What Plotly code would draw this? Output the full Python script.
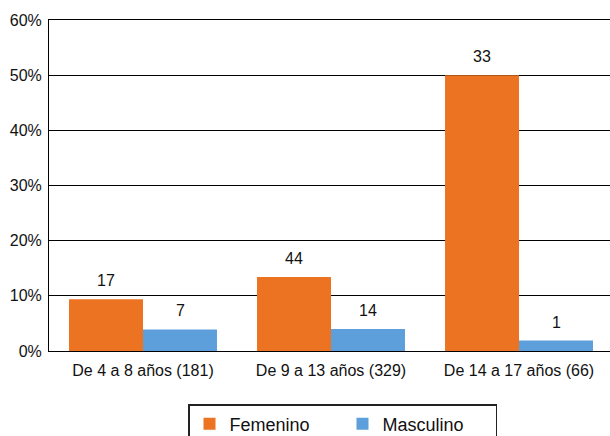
import plotly.graph_objects as go

categories = ["De 4 a 8 años (181)", "De 9 a 13 años (329)", "De 14 a 17 años (66)"]
femenino_pct = [9.4, 13.4, 50.0]
masculino_pct = [3.9, 4.0, 1.9]
femenino_n = [17, 44, 33]
masculino_n = [7, 14, 1]
y_ticks = [0, 10, 20, 30, 40, 50, 60]

ORANGE = "#EC7321"
BLUE = "#5D9FDB"
FONT = "Liberation Sans, Arial, Helvetica, sans-serif"

fig = go.Figure()
fig.add_trace(go.Bar(name="Femenino", x=categories, y=femenino_pct,
                     marker=dict(color=ORANGE, line=dict(width=0))))
fig.add_trace(go.Bar(name="Masculino", x=categories, y=masculino_pct,
                     marker=dict(color=BLUE, line=dict(width=0))))

annotations = []
for cat, v, n in zip(categories, femenino_pct, femenino_n):
    annotations.append(dict(x=cat, y=v, text=str(n), showarrow=False, xshift=-37,
                            yanchor="bottom", yshift=8, font=dict(size=16, color="#111")))
for cat, v, n in zip(categories, masculino_pct, masculino_n):
    annotations.append(dict(x=cat, y=v, text=str(n), showarrow=False, xshift=37,
                            yanchor="bottom", yshift=8, font=dict(size=16, color="#111")))

fig.update_layout(
    width=610, height=436,
    margin=dict(l=49, r=0, t=20, b=85, autoexpand=False),
    paper_bgcolor="white", plot_bgcolor="white",
    font=dict(family=FONT, size=16, color="#111"),
    barmode="group", bargap=0.213, bargroupgap=0,
    annotations=annotations,
    showlegend=True,
    legend=dict(orientation="h", x=(188 - 49) / 561, xanchor="left",
                y=-(404 - 351) / 331, yanchor="top",
                bordercolor="#222", borderwidth=1.5, font=dict(size=18, color="#111"),
                entrywidth=108, entrywidthmode="pixels", itemsizing="constant",
                traceorder="normal"),
    xaxis=dict(range=[-0.5, 2.484], showgrid=False, showline=True, mirror=True,
               linecolor="black", linewidth=1, ticks="", tickfont=dict(size=16),
               ticklabelstandoff=5, fixedrange=True),
    yaxis=dict(range=[0, 60], tickvals=y_ticks, ticktext=[f"{t}%" for t in y_ticks],
               showgrid=True, gridcolor="black", gridwidth=1, showline=True,
               linecolor="black", linewidth=1, ticks="", zeroline=False,
               tickfont=dict(size=16), ticklabelstandoff=3, fixedrange=True),
)

fig.write_html("out.html", config={"displayModeBar": False},
               post_script="document.body.style.margin='0px';document.body.style.overflow='hidden';")
